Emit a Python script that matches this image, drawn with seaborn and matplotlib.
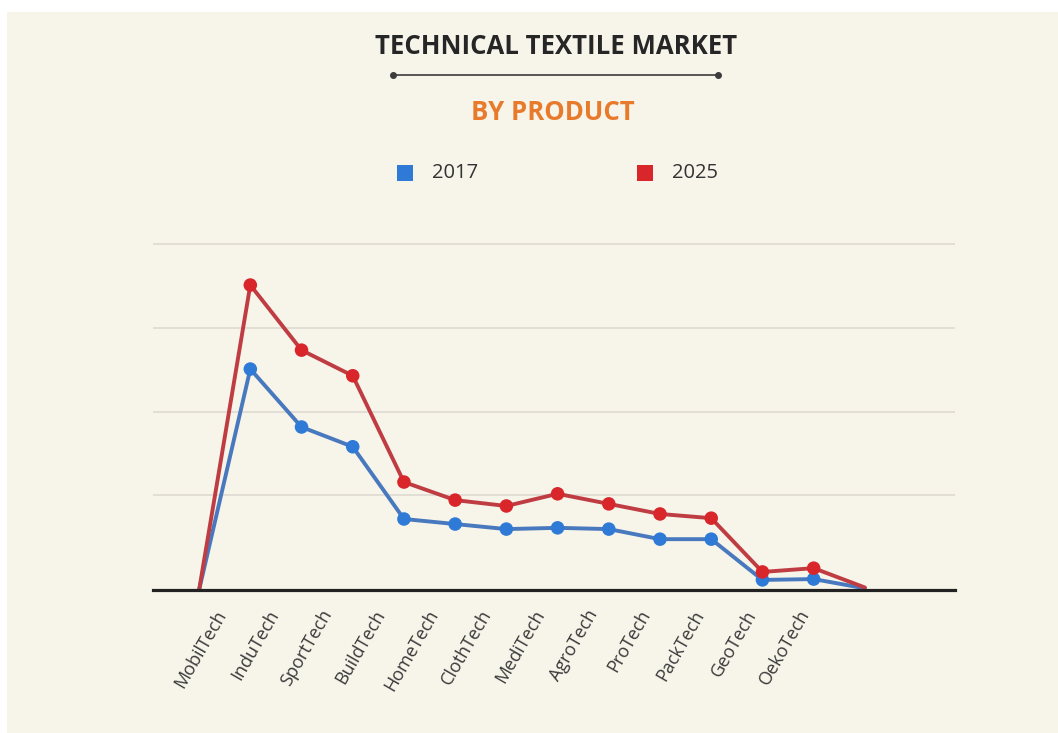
import numpy as np
import pandas as pd
import matplotlib
matplotlib.use("Agg")
import matplotlib.pyplot as plt
from matplotlib.patches import Rectangle
from matplotlib.lines import Line2D
import seaborn as sns

# Product segments (one marker each)
products = ["MobilTech", "InduTech", "SportTech", "BuildTech", "HomeTech", "ClothTech",
            "MediTech", "AgroTech", "ProTech", "PackTech", "GeoTech", "OekoTech"]
years = ["2017", "2025"]

# Market size index per segment
values_2017 = [52.6, 38.8, 34.1, 16.9, 15.7, 14.5, 14.8, 14.5, 12.1, 12.1, 2.4, 2.6]
values_2025 = [72.6, 57.1, 51.0, 25.7, 21.4, 20.0, 22.9, 20.5, 18.1, 17.1, 4.3, 5.2]

# Line lead-in / lead-out values at both ends of each series
lead_in = {"2017": 0.0, "2025": 0.0}
lead_out = {"2017": 0.4, "2025": 0.6}

grid_levels = [22.6, 42.4, 62.4, 82.4]

BG = "#f7f4ea"
line_colors = {"2017": "#4878bd", "2025": "#bf3d42"}
marker_colors = {"2017": "#2f7ad6", "2025": "#d8262b"}

sns.set_theme(style="white")
plt.rcParams["font.family"] = ["Open Sans", "DejaVu Sans"]

fig = plt.figure(figsize=(10.58, 7.33), dpi=100, facecolor="white")
fig.patches.append(Rectangle((7 / 1058, -0.01), 1.1, 1.01 - 12 / 733, transform=fig.transFigure,
                             facecolor=BG, edgecolor="none", zorder=-10))

W, H = 1058, 733
ax = fig.add_axes([153 / W, 1 - 590 / H, (955 - 153) / W, (590 - 230) / H])
ax.set_facecolor("none")

series = {"2017": values_2017, "2025": values_2025}
rows = []
for yr in years:
    full = [lead_in[yr]] + series[yr] + [lead_out[yr]]
    for i, v in enumerate(full):
        rows.append({"pos": i, "value": v, "year": yr,
                     "product": products[i - 1] if 1 <= i <= len(products) else None})
df = pd.DataFrame(rows)

for yr in years:
    sub = df[df["year"] == yr]
    sns.lineplot(data=sub, x="pos", y="value", ax=ax, color=line_colors[yr],
                 linewidth=2.8, zorder=3, legend=False, solid_joinstyle="round")
    pts = sub[sub["product"].notna()]
    sns.scatterplot(data=pts, x="pos", y="value", ax=ax, color=marker_colors[yr],
                    s=95, edgecolor="none", zorder=4, legend=False)

ax.set_xlim(-0.9, 14.76)
ax.set_ylim(0, 85.7)
ax.set_yticks(grid_levels)
ax.yaxis.grid(True, color="#dedad2", linewidth=1.2)
ax.tick_params(axis="y", left=False, labelleft=False)
for s in ["left", "right", "top"]:
    ax.spines[s].set_visible(False)
ax.spines["bottom"].set_color("#222222")
ax.spines["bottom"].set_linewidth(2.3)
ax.spines["bottom"].set_zorder(5)

label_pos = np.linspace(0.6, 12.0, len(products))
ax.set_xticks(label_pos)
ax.set_xticklabels(products, rotation=60, ha="right", va="top",
                   fontsize=13, color="#3a3a3a")
ax.tick_params(axis="x", bottom=False, pad=6)
ax.set_xlabel("")
ax.set_ylabel("")

# Title block
fig.text(556 / W, 1 - 46 / H, "TECHNICAL TEXTILE MARKET", ha="center", va="center",
         fontsize=18.5, fontweight="bold", color="#262626")
fig.add_artist(Line2D([393 / W, 718 / W], [1 - 75 / H, 1 - 75 / H], transform=fig.transFigure,
                      color="#3c3c3c", linewidth=1.2, marker="o", markersize=4,
                      markevery=[0, 1]))
fig.text(553 / W, 1 - 113 / H, "BY PRODUCT", ha="center", va="center",
         fontsize=18.5, fontweight="bold", color="#e87a2c")

# Legend
for x0, yr in [(405, "2017"), (645, "2025")]:
    fig.patches.append(Rectangle(((x0 - 8) / W, 1 - 181 / H), 16 / W, 16 / H,
                                 transform=fig.transFigure, facecolor=marker_colors[yr],
                                 edgecolor="none"))
    fig.text((x0 + 27) / W, 1 - 173 / H, yr, ha="left", va="center",
             fontsize=14.5, color="#333333")

fig.savefig("out.png", dpi=100, facecolor=fig.get_facecolor())
